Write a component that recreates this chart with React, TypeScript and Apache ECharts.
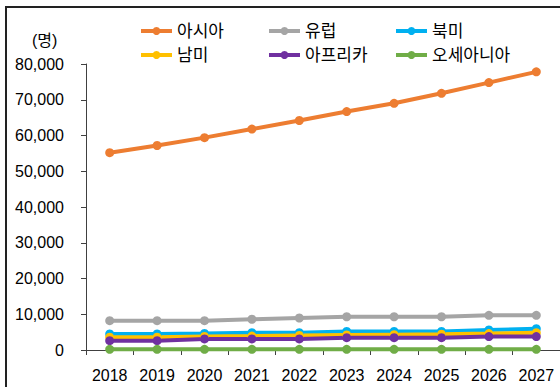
import React, { useEffect, useRef } from "react";
import * as echarts from "echarts";

const years = ["2018", "2019", "2020", "2021", "2022", "2023", "2024", "2025", "2026", "2027"];
const seriesNames = ["아시아", "유럽", "북미", "남미", "아프리카", "오세아니아"];
const seriesColors = ["#ED7D31", "#A5A5A5", "#00B0F0", "#FFC000", "#7030A0", "#70AD47"];
const asia = [55200, 57200, 59400, 61800, 64200, 66700, 69000, 71800, 74800, 77800];
const europe = [8200, 8200, 8200, 8600, 8950, 9300, 9300, 9300, 9700, 9700];
const northAmerica = [4500, 4500, 4650, 4850, 4850, 5200, 5200, 5200, 5600, 5950];
const southAmerica = [3600, 3600, 3800, 3900, 4050, 4200, 4300, 4400, 4600, 4850];
const africa = [2600, 2600, 3100, 3100, 3100, 3450, 3450, 3450, 3750, 3750];
const oceania = [200, 200, 200, 200, 200, 200, 200, 200, 200, 200];
const yTicks = { min: 0, max: 80000, interval: 10000 };
const unitLabel = "(명)";

const FONT = "'Liberation Sans', 'Noto Sans CJK KR', sans-serif";

export default function App() {
  const ref = useRef<HTMLDivElement>(null);
  useEffect(() => {
    if (!ref.current) return;
    const chart = echarts.init(ref.current, null, { renderer: "svg" });
    const allData = [asia, europe, northAmerica, southAmerica, africa, oceania];
    const legendBase = {
      orient: "vertical" as const,
      top: 21,
      padding: 0,
      itemWidth: 31,
      itemHeight: 10,
      itemGap: 4,
      lineStyle: { width: 4 },
      textStyle: { fontFamily: FONT, fontSize: 17, color: "#000", lineHeight: 20 },
    };
    chart.setOption({
      animation: false,
      backgroundColor: "#fff",
      textStyle: { fontFamily: FONT },
      graphic: [
        {
          type: "rect",
          shape: { x: 6, y: 7, width: 600, height: 420 },
          style: { fill: "none", stroke: "#222", lineWidth: 2 },
          silent: true,
        },
        {
          type: "text",
          left: 32,
          top: 32,
          style: { text: unitLabel, font: `16px ${FONT}`, fill: "#000" },
        },
      ],
      legend: [
        { ...legendBase, left: 139, data: [seriesNames[0], seriesNames[3]] },
        { ...legendBase, left: 267, data: [seriesNames[1], seriesNames[4]] },
        { ...legendBase, left: 394, data: [seriesNames[2], seriesNames[5]] },
      ],
      grid: { left: 86, right: -5, top: 64, bottom: 37, containLabel: false },
      xAxis: {
        type: "category",
        data: years,
        boundaryGap: true,
        axisLine: { show: true, lineStyle: { color: "#404040", width: 1 } },
        axisTick: { show: true, interval: 0, length: 5, lineStyle: { color: "#404040" } },
        axisLabel: { interval: 0, fontSize: 16, color: "#000", margin: 17, fontFamily: FONT },
        splitLine: { show: false },
      },
      yAxis: {
        type: "value",
        min: yTicks.min,
        max: yTicks.max,
        interval: yTicks.interval,
        axisLine: { show: true, lineStyle: { color: "#404040", width: 1 } },
        axisTick: { show: true, length: 5, lineStyle: { color: "#404040" } },
        axisLabel: {
          fontSize: 16,
          color: "#000",
          margin: 22,
          fontFamily: FONT,
          formatter: (v: number) => v.toLocaleString("en-US"),
        },
        splitLine: { show: false },
      },
      series: seriesNames.map((name, i) => ({
        name,
        type: "line",
        data: allData[i],
        symbol: "circle",
        symbolSize: 9,
        color: seriesColors[i],
        lineStyle: { width: 4, color: seriesColors[i] },
        itemStyle: { color: seriesColors[i] },
      })),
    });
    return () => chart.dispose();
  }, []);
  return (
    <div
      ref={ref}
      style={{ position: "fixed", left: 0, top: 0, width: 560, height: 387 }}
    />
  );
}
